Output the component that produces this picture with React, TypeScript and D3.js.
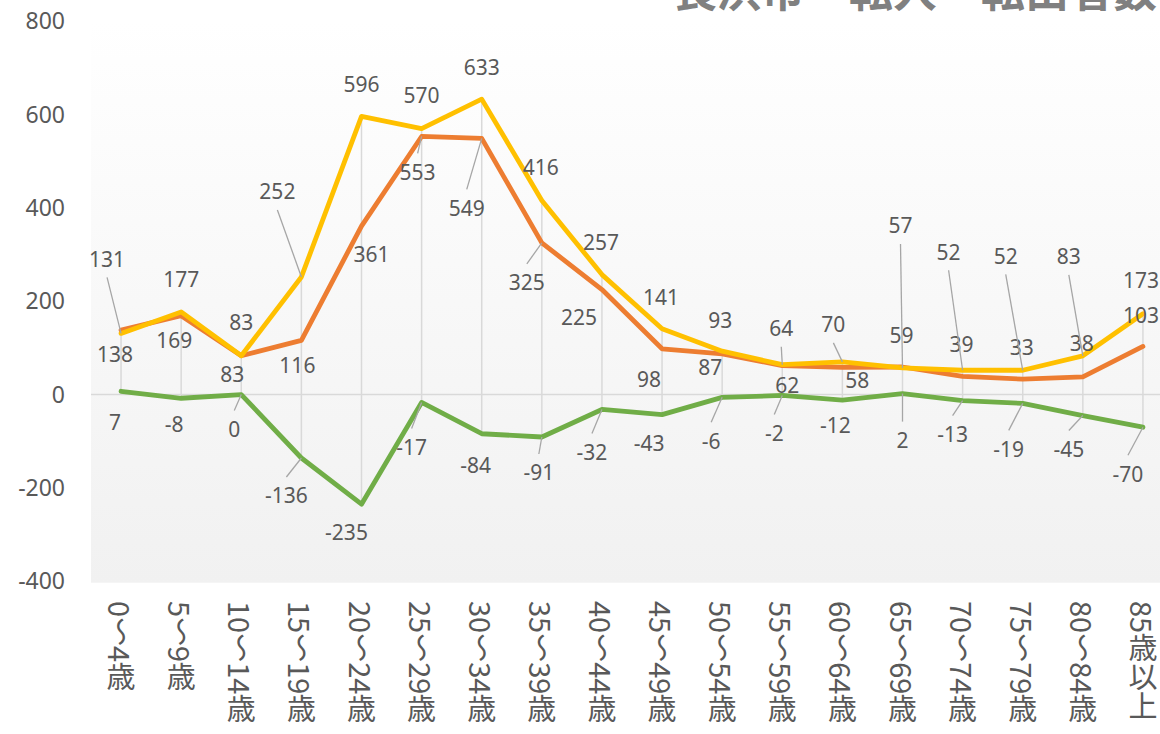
import * as d3 from "d3";

const categories = [
  "0〜4歳", "5〜9歳", "10〜14歳", "15〜19歳", "20〜24歳", "25〜29歳",
  "30〜34歳", "35〜39歳", "40〜44歳", "45〜49歳", "50〜54歳", "55〜59歳",
  "60〜64歳", "65〜69歳", "70〜74歳", "75〜79歳", "80〜84歳", "85歳以上",
];

// yellow series
const tenshutsu = [131, 177, 83, 252, 596, 570, 633, 416, 257, 141, 93, 64, 70, 57, 52, 52, 83, 173];
// orange series
const tennyu = [138, 169, 83, 116, 361, 553, 549, 325, 225, 98, 87, 62, 58, 59, 39, 33, 38, 103];
// green series (orange - yellow)
const zougen = [7, -8, 0, -136, -235, -17, -84, -91, -32, -43, -6, -2, -12, 2, -13, -19, -45, -70];

const titleText = "長浜市　転入・転出者数";

// label placement relative to the point: [dx, dy, leader line]
const yellowLabelPos: [number, number, boolean][] = [
  [-14, -74, true], [0, -32, false], [0, -33, false], [-24, -85, true], [0, -32, false],
  [0, -33, false], [0, -32, false], [-1, -33, false], [-1, -32, false], [-1, -31, false],
  [-2, -31, false], [-1, -36, true], [-9, -37, true], [-2, -142, true], [-14, -118, true],
  [-17, -114, true], [-14, -99, true], [-2, -33, false],
];
const orangeLabelPos: [number, number, boolean][] = [
  [-6, 24, false], [-7, 25, false], [-9, 19, false], [-4, 25, false], [10, 28, false],
  [-4, 36, true], [-15, 70, true], [-15, 40, true], [-23, 28, false], [-13, 31, false],
  [-12, 14, false], [5, 20, false], [15, 13, false], [-1, -31, false], [-1, -32, false],
  [-1, -32, false], [-1, -33, false], [-2, -31, false],
];
const greenLabelPos: [number, number, boolean][] = [
  [-6, 31, false], [-7, 26, false], [-7, 35, true], [-15, 38, true], [-15, 28, false],
  [-10, 45, true], [-6, 32, false], [-3, 36, true], [-10, 43, true], [-13, 29, false],
  [-11, 44, true], [-8, 38, true], [-7, 25, false], [0, 47, true], [-10, 34, true],
  [-14, 46, true], [-14, 34, true], [-15, 47, true],
];

const W = 1160;
const H = 734;
const plot = { left: 91, right: 1173, top: 21.2, bottom: 581.2 };
const textColor = "#595959";
const labelSize = 21;
const tickSize = 23;
const catSize = 29;

export default function App() {
  const x = d3.scaleBand<string>().domain(categories).range([plot.left, plot.right]).padding(0);
  const y = d3.scaleLinear().domain([-400, 800]).range([plot.bottom, plot.top]);
  const cx = (i: number) => (x(categories[i]) ?? 0) + x.bandwidth() / 2;

  const line = d3.line<number>().x((_, i) => cx(i)).y((d) => y(d));

  const series = [
    { values: tennyu, color: "#ED7D31", pos: orangeLabelPos },
    { values: tenshutsu, color: "#FFC000", pos: yellowLabelPos },
    { values: zougen, color: "#70AD47", pos: greenLabelPos },
  ];

  const numFont = "'Noto Sans', 'Noto Sans CJK JP', sans-serif";

  return (
    <div style={{ position: "fixed", left: 0, top: 0 }}>
      <svg width={W} height={H} style={{ display: "block", background: "#fff" }}>
        <defs>
          <linearGradient id="plotbg" x1="0" y1="0" x2="0" y2="1">
            <stop offset="0" stopColor="#ffffff" />
            <stop offset="1" stopColor="#f1f1f1" />
          </linearGradient>
        </defs>
        <rect x={plot.left} y={plot.top} width={plot.right - plot.left} height={plot.bottom - plot.top + 1.5} fill="url(#plotbg)" />

        {/* zero line */}
        <line x1={plot.left} x2={plot.right} y1={y(0)} y2={y(0)} stroke="#d9d9d9" strokeWidth={1.5} />

        {/* high-low lines */}
        {categories.map((c, i) => {
          const vals = [tennyu[i], tenshutsu[i], zougen[i]];
          return (
            <line key={c} x1={cx(i)} x2={cx(i)} y1={y(d3.max(vals)!)} y2={y(d3.min(vals)!)} stroke="#d9d9d9" strokeWidth={1.5} />
          );
        })}

        {/* y tick labels */}
        {y.ticks(6).map((t) => (
          <text key={t} x={65} y={y(t) + tickSize * 0.357} textAnchor="end" fontSize={tickSize} fill={textColor} fontFamily={numFont}>
            {t}
          </text>
        ))}

        {/* series lines */}
        {series.map((s) => (
          <path key={s.color} d={line(s.values) ?? ""} fill="none" stroke={s.color} strokeWidth={4.8} strokeLinejoin="round" strokeLinecap="round" />
        ))}

        {/* leader lines and data labels */}
        {series.map((s) =>
          s.values.map((v, i) => {
            const [dx, dy, leader] = s.pos[i];
            const px = cx(i);
            const py = y(v);
            const lx = px + dx;
            const ly = py + dy;
            const ey = dy < 0 ? ly + 18 : ly - 19;
            return (
              <g key={s.color + i}>
                {leader && <line x1={lx} y1={ey} x2={px} y2={py} stroke="#a6a6a6" strokeWidth={1.3} />}
                <text x={lx} y={ly + labelSize * 0.357} textAnchor="middle" fontSize={labelSize} fill={textColor} fontFamily={numFont}>
                  {v}
                </text>
              </g>
            );
          })
        )}

        {/* category labels, vertical */}
        {categories.map((c, i) => (
          <text
            key={c}
            x={cx(i)}
            y={601}
            fontSize={catSize}
            fill={textColor}
            fontFamily="'Noto Sans CJK JP', sans-serif"
            style={{ writingMode: "vertical-rl", textOrientation: "mixed" } as any}
          >
            {c}
          </text>
        ))}

        <text x={673} y={7} fontSize={44} fontWeight="bold" fill="#808080" fontFamily="'Noto Sans CJK JP', sans-serif">
          {titleText}
        </text>
      </svg>
    </div>
  );
}
